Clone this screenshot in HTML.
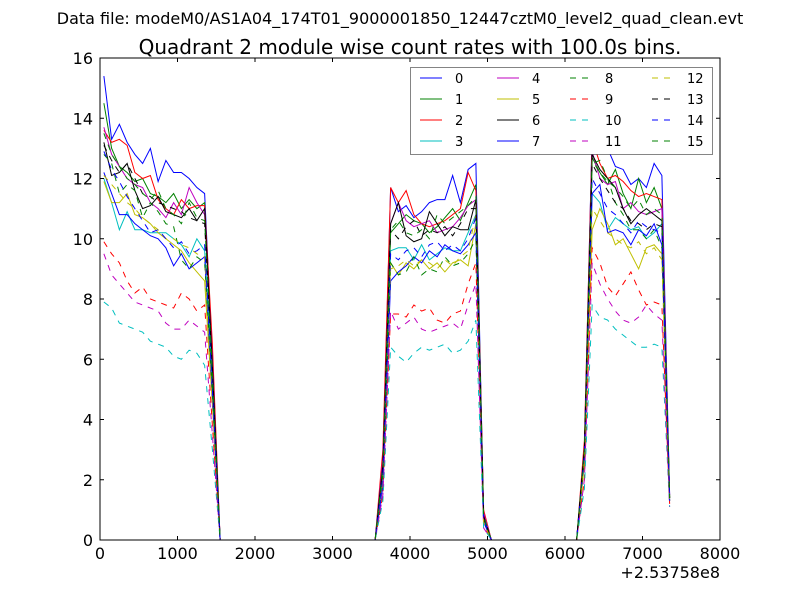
<!DOCTYPE html>
<html><head><meta charset="utf-8"><style>
body{margin:0;background:#fff;}
svg text{font-family:"DejaVu Sans","Liberation Sans",sans-serif;}
</style></head><body>
<svg id="chart" width="800" height="600" xmlns="http://www.w3.org/2000/svg">
<rect width="800" height="600" fill="#fff"/>
<text x="400" y="24" font-size="16" text-anchor="middle">Data file: modeM0/AS1A04_174T01_9000001850_12447cztM0_level2_quad_clean.evt</text>
<text x="410" y="54" font-size="20" text-anchor="middle">Quadrant 2 module wise count rates with 100.0s bins.</text>
<g id="plot"></g>
<g id="axes"></g>
<g id="legend"></g>
</svg>
<script>
const times=[50,150,250,350,450,550,650,750,850,950,1050,1150,1250,1350,1450,1550,
3550,3650,3750,3850,3950,4050,4150,4250,4350,4450,4550,4650,4750,4850,4950,5050,
6150,6250,6350,6450,6550,6650,6750,6850,6950,7050,7150,7250,7350];
const xTicks=[0,1000,2000,3000,4000,5000,6000,7000,8000];
const yTicks=[0,2,4,6,8,10,12,14,16];
const seriesNames=["0","1","2","3","4","5","6","7","8","9","10","11","12","13","14","15"];
const s0=[15.4,13.3,13.8,13.2,12.8,12.5,13.0,11.9,12.6,12.2,12.2,12.0,11.7,11.5,6.0,0, 0,2.5,11.7,10.9,11.1,10.7,10.9,11.2,11.3,11.3,12.1,11.2,12.3,12.5,0.8,0, 0,3.0,13.5,13.3,13.0,12.4,12.3,11.8,12.0,11.7,12.5,12.1,1.5];
const s1=[14.5,13.0,12.4,12.2,11.9,12.0,11.5,11.4,11.2,11.5,11.0,11.3,11.0,11.2,5.5,0, 0,2.2,10.2,10.5,10.8,10.6,10.5,10.2,10.4,10.7,11.0,10.6,11.2,11.8,0.9,0, 0,2.8,12.7,12.2,11.8,12.3,11.5,11.0,12.0,11.2,11.7,11.0,1.4];
const s2=[13.6,13.2,13.3,13.1,12.2,12.0,12.1,11.3,11.0,10.8,11.3,11.0,11.1,11.1,6.5,0, 0,3.0,11.7,11.2,11.6,10.8,10.5,10.4,10.5,10.6,10.8,11.0,12.2,11.6,1.0,0, 0,3.3,13.3,12.5,12.0,12.1,11.9,11.6,11.4,11.5,11.4,11.3,1.4];
const s3=[12.0,11.2,10.3,10.9,10.3,10.3,10.2,10.2,10.2,10.0,9.8,9.4,10.0,9.6,5.5,0, 0,2.0,9.6,9.7,9.7,9.3,9.8,9.3,9.5,9.7,9.6,9.6,10.2,10.8,0.7,0, 0,2.8,11.5,11.2,10.3,10.7,10.5,10.3,10.4,10.0,10.2,10.5,1.4];
const s4=[13.7,12.8,12.4,12.0,11.8,11.7,11.2,11.0,10.7,11.2,10.8,11.7,11.2,10.8,6.0,0, 0,2.7,10.5,11.2,10.6,10.4,10.5,10.6,10.2,10.3,10.4,10.7,11.1,11.3,0.9,0, 0,3.0,12.9,12.0,11.8,11.9,11.0,11.2,10.9,10.8,10.9,11.0,1.5];
const s5=[11.9,11.2,11.2,11.5,10.8,10.7,10.5,10.2,10.0,9.8,9.6,9.2,8.9,8.6,4.5,0, 0,2.2,9.2,8.8,9.2,9.0,9.3,9.0,9.2,8.9,9.2,9.3,9.1,10.5,0.6,0, 0,2.5,10.3,11.0,10.5,9.8,10.0,9.5,9.0,9.7,9.8,9.5,1.3];
const s6=[13.2,12.1,12.2,12.5,11.6,11.0,11.1,11.4,10.9,10.8,10.7,11.0,10.6,11.0,5.8,0, 0,2.5,10.5,11.2,10.1,9.9,10.0,10.9,10.5,10.1,10.4,10.3,10.3,11.3,0.7,0, 0,3.0,12.8,12.3,12.0,11.7,11.0,10.5,10.8,11.0,10.8,10.6,1.4];
const s7=[12.2,11.5,10.8,10.8,10.5,10.3,10.1,10.0,9.7,9.1,9.5,9.0,9.2,9.4,4.8,0, 0,1.8,8.6,8.9,9.1,9.4,9.2,9.6,9.4,9.8,9.6,9.5,9.8,10.2,0.6,0, 0,2.8,11.5,11.8,10.2,10.3,10.2,9.8,10.3,10.1,10.5,9.8,1.3];
const s8=[12.8,12.5,11.5,11.8,11.6,10.7,11.2,10.9,10.5,10.4,9.3,9.0,9.4,9.2,5.0,0, 0,2.2,9.2,8.8,8.9,9.4,8.8,9.0,8.9,9.4,9.1,9.2,9.5,10.0,0.7,0, 0,2.7,12.5,12.6,12.0,11.2,10.8,10.3,10.3,10.0,10.3,9.7,1.4];
const s9=[9.9,9.5,9.2,8.6,8.2,8.4,8.0,7.9,7.8,7.7,8.2,8.0,7.6,7.8,3.8,0, 0,1.5,7.5,7.5,7.4,7.8,7.6,7.7,7.3,7.2,7.5,7.6,8.5,9.2,0.5,0, 0,2.0,9.7,9.2,8.4,8.1,8.5,8.9,8.3,7.8,7.9,7.8,1.2];
const s10=[7.9,7.7,7.2,7.1,7.0,6.9,6.6,6.5,6.4,6.1,6.0,6.3,6.2,5.8,3.0,0, 0,1.3,6.4,6.1,5.9,6.2,6.4,6.3,6.4,6.5,6.2,6.3,6.6,7.3,0.4,0, 0,1.7,7.8,7.4,7.3,7.0,6.8,6.6,6.4,6.4,6.5,6.4,1.1];
const s11=[9.5,8.8,8.5,8.2,7.9,7.8,7.7,7.6,7.2,7.0,7.0,7.3,7.1,6.9,3.5,0, 0,1.5,7.6,7.0,7.2,7.4,7.0,6.9,7.0,7.1,7.2,7.0,7.8,8.5,0.4,0, 0,2.0,9.2,8.5,8.0,7.6,7.3,7.2,7.4,7.8,7.5,7.3,1.1];
const s12=[12.1,11.8,11.5,11.2,11.0,10.7,10.5,10.3,10.0,10.0,9.8,9.7,9.5,9.4,4.6,0, 0,2.0,9.0,9.1,9.3,9.1,9.3,9.2,9.0,9.3,9.1,9.4,9.6,10.8,0.6,0, 0,2.6,11.0,10.6,10.2,10.0,9.8,9.7,9.9,9.5,9.7,9.3,1.3];
const s13=[13.1,12.6,12.2,12.5,12.0,11.5,11.4,11.2,11.1,11.0,10.9,10.7,10.6,10.5,5.6,0, 0,2.4,10.3,10.0,10.4,10.6,10.1,10.3,10.2,10.4,10.1,10.5,11.0,11.0,0.8,0, 0,3.0,12.5,12.0,11.6,11.2,11.0,10.6,10.5,10.3,10.5,10.4,1.4];
const s14=[12.9,12.3,11.9,11.4,11.0,10.6,10.2,10.3,10.0,9.7,9.9,9.5,9.6,9.8,5.0,0, 0,2.1,9.5,9.3,9.6,9.7,9.4,9.8,9.9,9.6,9.8,9.6,10.0,10.7,0.7,0, 0,2.8,12.0,11.5,11.0,10.8,10.5,10.2,10.6,10.4,10.3,10.2,1.3];
const s15=[13.5,12.8,12.4,12.0,11.8,11.5,11.3,11.6,11.0,10.8,10.5,11.2,10.7,10.6,5.5,0, 0,2.4,10.3,10.6,10.2,10.1,10.3,10.0,10.8,10.5,10.7,10.9,11.1,11.4,0.8,0, 0,3.0,12.6,12.2,11.9,11.7,11.4,11.0,11.3,10.8,11.0,10.8,1.4];
const allSeries=[s0,s1,s2,s3,s4,s5,s6,s7,s8,s9,s10,s11,s12,s13,s14,s15];
const colors=["#0000ff","#008000","#ff0000","#00bfbf","#bf00bf","#bfbf00","#000000"];

const X0=100,X1=720,Y0=540,Y1=58;
function xs(t){return X0+(t-0)/8000*(X1-X0);}
function ys(v){return Y0-(v-0)/16*(Y0-Y1);}
const NS="http://www.w3.org/2000/svg";
function mk(tag,attrs,parent){const e=document.createElementNS(NS,tag);for(const k in attrs)e.setAttribute(k,attrs[k]);parent.appendChild(e);return e;}

const plot=document.getElementById('plot');
allSeries.forEach((vals,i)=>{
  const d=vals.map((v,j)=>(j?'L':'M')+xs(times[j]).toFixed(2)+','+ys(v).toFixed(2)).join(' ');
  const p=mk('path',{d:d,fill:'none',stroke:colors[i%7],'stroke-width':1},plot);
  if(i>=8)p.setAttribute('stroke-dasharray','6,6');
  
  
});

const axes=document.getElementById('axes');
const frame=mk('rect',{x:X0,y:Y1,width:X1-X0,height:Y0-Y1,fill:'none',stroke:'#000','stroke-width':1},axes);


xTicks.forEach(t=>{
  const x=xs(t);
  mk('line',{x1:x,y1:Y0,x2:x,y2:Y0-4,stroke:'#000'},axes);
  mk('line',{x1:x,y1:Y1,x2:x,y2:Y1+4,stroke:'#000'},axes);
  const tx=mk('text',{x:x,y:Y0+19,'font-size':16,'text-anchor':'middle'},axes);
  tx.textContent=t;
  
  
});
yTicks.forEach(v=>{
  const y=ys(v);
  mk('line',{x1:X0,y1:y,x2:X0+4,y2:y,stroke:'#000'},axes);
  mk('line',{x1:X1,y1:y,x2:X1-4,y2:y,stroke:'#000'},axes);
  const tx=mk('text',{x:X0-7,y:y+6,'font-size':16,'text-anchor':'end'},axes);
  tx.textContent=v;
  
  
});
const off=mk('text',{x:720,y:578,'font-size':16,'text-anchor':'end'},axes);
off.textContent='+2.53758e8';



const lg=document.getElementById('legend');
const box=mk('rect',{x:410.5,y:67.5,width:302,height:87,fill:'#fff',stroke:'#000','stroke-width':0.8,'stroke-opacity':0.6},lg);


const colX=[420,497,570,652];
const rowY=[78,99,120,141];
seriesNames.forEach((n,i)=>{
  const c=Math.floor(i/4),r=i%4;
  const g=mk('g',{},lg);
  
  
  const l=mk('line',{x1:colX[c],y1:rowY[r],x2:colX[c]+22,y2:rowY[r],stroke:colors[i%7],'stroke-width':1},g);
  if(i>=8)l.setAttribute('stroke-dasharray','6,6');
  const t=mk('text',{x:colX[c]+35,y:rowY[r]+5,'font-size':13},g);
  t.textContent=n;
});
</script>
</body></html>
